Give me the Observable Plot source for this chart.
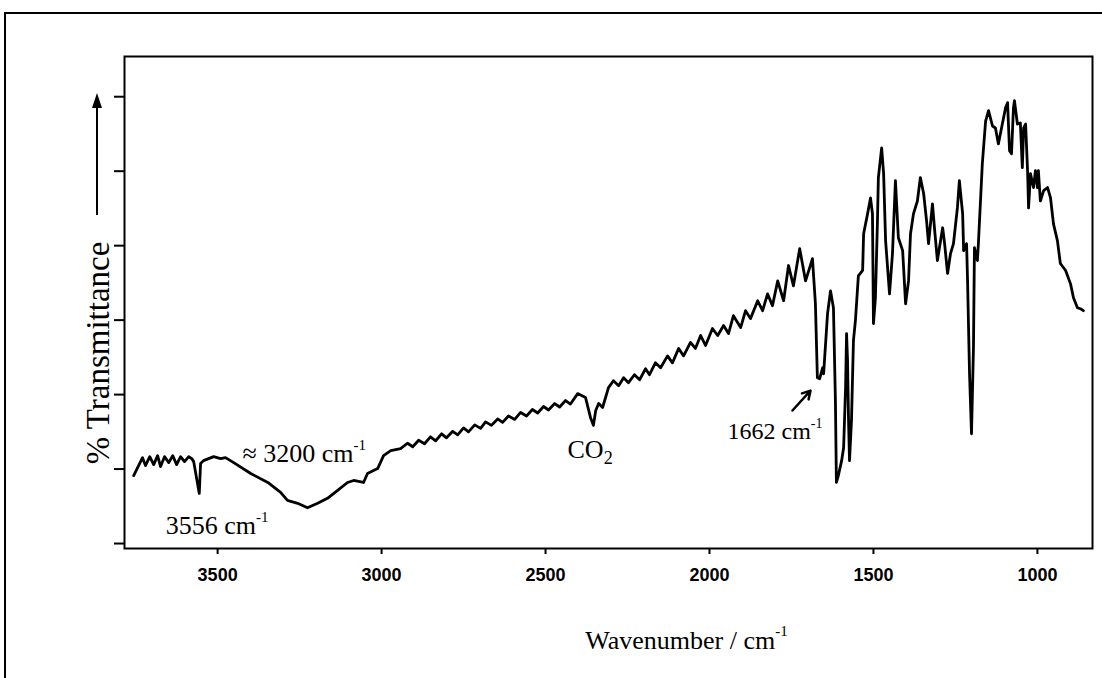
<!DOCTYPE html>
<html>
<head>
<meta charset="utf-8">
<script src="https://cdn.jsdelivr.net/npm/d3@7"></script>
<script src="https://cdn.jsdelivr.net/npm/@observablehq/plot@0.6"></script>
<style>
  html, body { margin: 0; background: #fff; overflow: hidden; width: 1102px; height: 678px; }
  #outer { position: absolute; left: 4px; top: 12px; width: 1098px; height: 666px; border-top: 2px solid #000; border-left: 2px solid #000; box-sizing: border-box; }
  #chart { position: absolute; left: 0; top: 0; }
</style>
</head>
<body>
<div id="outer"></div>
<div id="chart"></div>
<script>
// IR spectrum
const wavenumber = [
  3756,3729,3720,3707,3695,3683,3674,3662,3649,3637,3625,3613,3601,3588,3579,3573,3556,3552,3543,3512,
  3491,3476,3451,3399,3347,3308,3287,3256,3226,3195,3165,3134,3104,3085,3055,3043,3012,2994,2972,2942,
  2921,2905,2887,2869,2851,2835,2817,2802,2783,2768,2750,2735,2716,2698,2683,2665,2646,2631,2613,2594,
  2576,2558,2540,2524,2506,2491,2472,2457,2439,2424,2402,2378,2363,2354,2347,2338,2326,2308,
  2293,2277,2262,2247,2229,2213,2195,2183,2165,2149,2128,2113,2094,2079,2058,2043,2027,2012,1991,1975,
  1957,1942,1927,1905,1890,1875,1853,1838,1823,1808,1792,1774,1759,1744,1725,1707,1686,1677,1671,1664,
  1655,1652,1640,1631,1622,1616,1613,1607,1597,1591,1585,1582,1579,1576,1573,1567,1561,1555,1546,1533,
  1530,1518,1509,1503,1500,1494,1488,1485,1475,1469,1463,1451,1442,1433,1424,1411,1402,1393,1387,1378,
  1366,1357,1347,1338,1332,1320,1314,1305,1289,1283,1274,1265,1256,1244,1238,1228,1225,1216,1213,1207,
  1201,1195,1192,1183,1180,1168,1158,1149,1137,1128,1119,1107,1097,1091,1085,1079,1073,1070,1061,1052,
  1046,1042,1036,1030,1027,1021,1012,1006,1000,997,991,981,969,960,951,939,930,914,899,890,
  878,869,860
];
const transmittance = [
  13.7,17.3,15.7,17.5,15.9,17.7,15.5,17.5,16.3,17.7,15.9,17.5,16.5,17.5,17.1,16.5,10.1,16.1,16.7,17.5,
  17.1,17.3,16.3,14.1,12.3,10.3,8.7,8.1,7.2,8.1,9.1,10.7,12.3,12.7,12.3,14.1,15.1,17.7,18.7,19.1,
  20.2,19.5,20.8,20.1,21.5,20.7,22.1,21.3,22.6,21.9,23.3,22.5,23.9,23.2,24.5,23.8,25.1,24.4,25.7,25.0,
  26.4,25.7,27.0,26.3,27.6,26.9,28.2,27.5,28.8,28.1,30.2,29.4,25.4,23.8,26.8,28.2,27.4,31.4,
  32.8,31.8,33.4,32.4,34.0,33.0,35.2,34.0,36.4,35.4,37.8,36.4,39.3,37.8,40.5,39.3,41.9,39.9,43.3,41.9,
  43.9,42.3,45.9,43.5,46.9,45.3,48.9,46.9,50.3,47.9,52.9,48.9,56.0,51.9,59.4,52.9,57.4,48.3,33.4,33.2,
  35.4,34.2,46.3,50.9,47.5,28.8,12.3,13.7,16.7,19.3,31.4,42.3,36.8,24.8,16.7,24.8,40.9,44.9,53.9,55.0,
  62.4,66.4,69.6,66.4,44.3,49.5,64.4,73.7,79.7,74.5,61.0,50.3,58.4,73.1,61.6,59.0,48.3,52.9,62.4,66.4,
  69.0,73.7,70.5,65.0,60.4,68.4,63.6,57.0,63.6,60.4,54.4,58.4,60.4,67.6,73.1,66.4,59.0,60.4,52.9,34.2,
  22.1,39.5,59.6,57.0,60.4,76.5,85.1,87.2,84.1,83.7,80.5,84.5,87.8,88.8,79.1,78.5,87.8,89.2,84.5,84.7,
  75.7,83.7,84.5,75.1,67.6,74.5,71.7,75.1,71.7,75.1,69.0,71.1,71.7,69.6,64.4,61.0,56.4,55.0,52.3,49.5,
  47.5,47.3,46.9
];
const xTicks = [3500, 3000, 2500, 2000, 1500, 1000];
const yTicks = [0, 15, 30, 45, 60, 75, 90];

// annotations
const annoText = ["3556 cm⁻¹", "≈ 3200 cm⁻¹", "CO₂", "1662 cm⁻¹"];
const annoX = [3658, 3424, 2433, 1945];
const annoY = [2.0, 16.5, 17.3, 21.1];
const annoSize = [26, 26, 26, 24];
const arrowFrom = [1747, 26.8];
const arrowTo = [1692, 30.8];

const spectrum = wavenumber.map((w, i) => ({w, t: transmittance[i]}));
const annos = annoText.map((s, i) => ({s, x: annoX[i], y: annoY[i], size: annoSize[i]}));

const serif = "'Liberation Serif', 'Times New Roman', serif";

const plot = Plot.plot({
  width: 1102,
  height: 678,
  marginLeft: 124,
  marginRight: 10,
  marginTop: 56,
  marginBottom: 130,
  style: {background: "transparent", color: "#000"},
  x: {domain: [3784, 832], label: null},
  y: {domain: [-1.0, 98.1], label: null},
  marks: [
    Plot.frame({stroke: "#000", strokeWidth: 2}),
    Plot.axisY({ticks: yTicks, tickSize: 10, tickFormat: () => "", strokeWidth: 2, label: null}),
    Plot.axisX({ticks: xTicks, tickSize: 6, tickPadding: 14, strokeWidth: 2, label: null,
      tickFormat: d => String(d),
      fontSize: 18, fontWeight: "bold", fontFamily: "'Liberation Sans', Arial, sans-serif"}),
    Plot.line(spectrum, {x: "w", y: "t", stroke: "#000", strokeWidth: 2.8, strokeLinejoin: "round"}),
    ...annos.map(a => Plot.text([a], {x: "x", y: "y", text: "s", textAnchor: "start", lineAnchor: "bottom",
      fontSize: a.size, fontFamily: serif, fill: "#000"})),
    Plot.arrow([{x1: arrowFrom[0], y1: arrowFrom[1], x2: arrowTo[0], y2: arrowTo[1]}],
      {x1: "x1", y1: "y1", x2: "x2", y2: "y2", stroke: "#000", strokeWidth: 2.5, headLength: 10}),
    Plot.text(["Wavenumber / cm⁻¹"], {frameAnchor: "bottom", dx: 78, dy: 100, lineAnchor: "bottom",
      fontSize: 26, fontFamily: serif, fill: "#000"})
  ]
});

document.getElementById("chart").appendChild(plot);

// superscripts / subscripts as tspans
d3.select(plot).selectAll("text").each(function () {
  const t = this.textContent;
  const el = d3.select(this);
  if (t.includes("⁻¹")) {
    const base = t.replace("⁻¹", "");
    el.text(null);
    el.append("tspan").text(base);
    el.append("tspan").attr("font-size", "0.58em").attr("dy", "-0.8em").text("-1");
  } else if (t.includes("₂")) {
    const base = t.replace("₂", "");
    el.text(null);
    el.append("tspan").text(base);
    el.append("tspan").attr("font-size", "0.7em").attr("dy", "0.35em").text("2");
  }
});

// y-axis label with upward arrow
const svg = d3.select(plot);
const g = svg.append("g");
g.append("text")
  .attr("transform", "translate(98,353) rotate(-90)")
  .attr("text-anchor", "middle")
  .attr("dominant-baseline", "central")
  .attr("font-family", serif)
  .attr("font-size", 33)
  .attr("fill", "#000")
  .text("% Transmittance");
g.append("line").attr("x1", 97).attr("x2", 97).attr("y1", 215).attr("y2", 104)
  .attr("stroke", "#000").attr("stroke-width", 2);
g.append("path").attr("d", "M97,93 L92,108 L102,108 Z").attr("fill", "#000");
</script>
</body>
</html>
